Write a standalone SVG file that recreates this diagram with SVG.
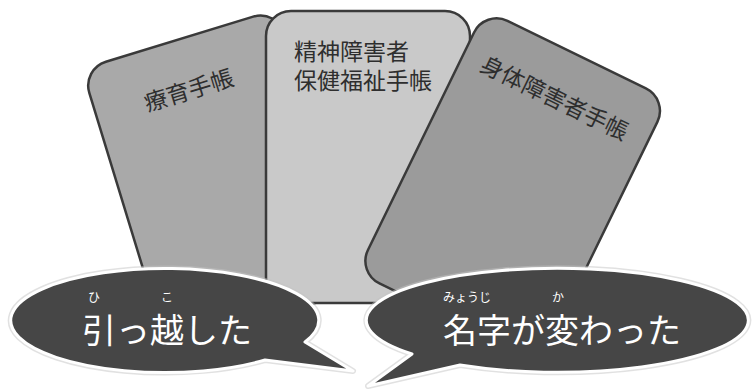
<svg xmlns="http://www.w3.org/2000/svg" width="752" height="389" viewBox="0 0 752 389">
<style>
.card{stroke:#3a3a3a;stroke-width:2.5}
.ct{font-family:"Noto Sans CJK JP","Noto Sans",sans-serif;font-size:23px;fill:#2e2e2e}
.bub{fill:#464646;stroke:#ffffff;stroke-width:3;stroke-linejoin:round}
.halo{fill:none;stroke:#c4c4c4;stroke-width:6;stroke-linejoin:round;opacity:0.5}
.bt{font-family:"Noto Sans CJK JP","Noto Sans",sans-serif;font-size:34px;fill:#ffffff;text-anchor:middle}
.rt{font-family:"Noto Sans CJK JP","Noto Sans",sans-serif;font-size:12px;fill:#ffffff}
</style>
<rect width="752" height="389" fill="#ffffff"/>
<g id="card-ryoiku" transform="translate(82,69) rotate(-17)">
<rect class="card" x="0" y="0" width="204" height="292" rx="25" fill="#a9a9a9"/>
<text class="ct" x="96" y="60" text-anchor="middle">療育手帳</text>
</g>
<g id="card-seishin">
<rect class="card" x="266" y="11" width="204" height="292" rx="25" fill="#c9c9c9"/>
<text class="ct" x="294" y="60">精神障害者</text>
<text class="ct" x="294" y="89">保健福祉手帳</text>
</g>
<g id="card-shintai" transform="translate(485,10) rotate(26)">
<rect class="card" x="0" y="0" width="204" height="292" rx="25" fill="#9b9b9b"/>
<text class="ct" x="101" y="57" text-anchor="middle">身体障害者手帳</text>
</g>
<g id="connectors"></g>
<g id="bubble-hikkoshi">
<path class="halo" d="M 305,342 L 353,371 L 265,360 A 154 52 0 1 1 305,342 Z"/>
<path class="bub" d="M 305,342 L 353,371 L 265,360 A 154 52 0 1 1 305,342 Z"/>
<text class="rt" x="94" y="302" text-anchor="middle">ひ</text>
<text class="rt" x="167" y="302" text-anchor="middle">こ</text>
<text class="bt" x="167" y="343">引っ越した</text>
</g>
<g id="bubble-myouji">
<path class="halo" d="M 460,365 L 368,386 L 412,354 A 191 52 0 1 1 460,365 Z"/>
<path class="bub" d="M 460,365 L 368,386 L 412,354 A 191 52 0 1 1 460,365 Z"/>
<text class="rt" x="443" y="302">みょうじ</text>
<text class="rt" x="558" y="302" text-anchor="middle">か</text>
<text class="bt" x="562" y="343">名字が変わった</text>
</g>
</svg>
